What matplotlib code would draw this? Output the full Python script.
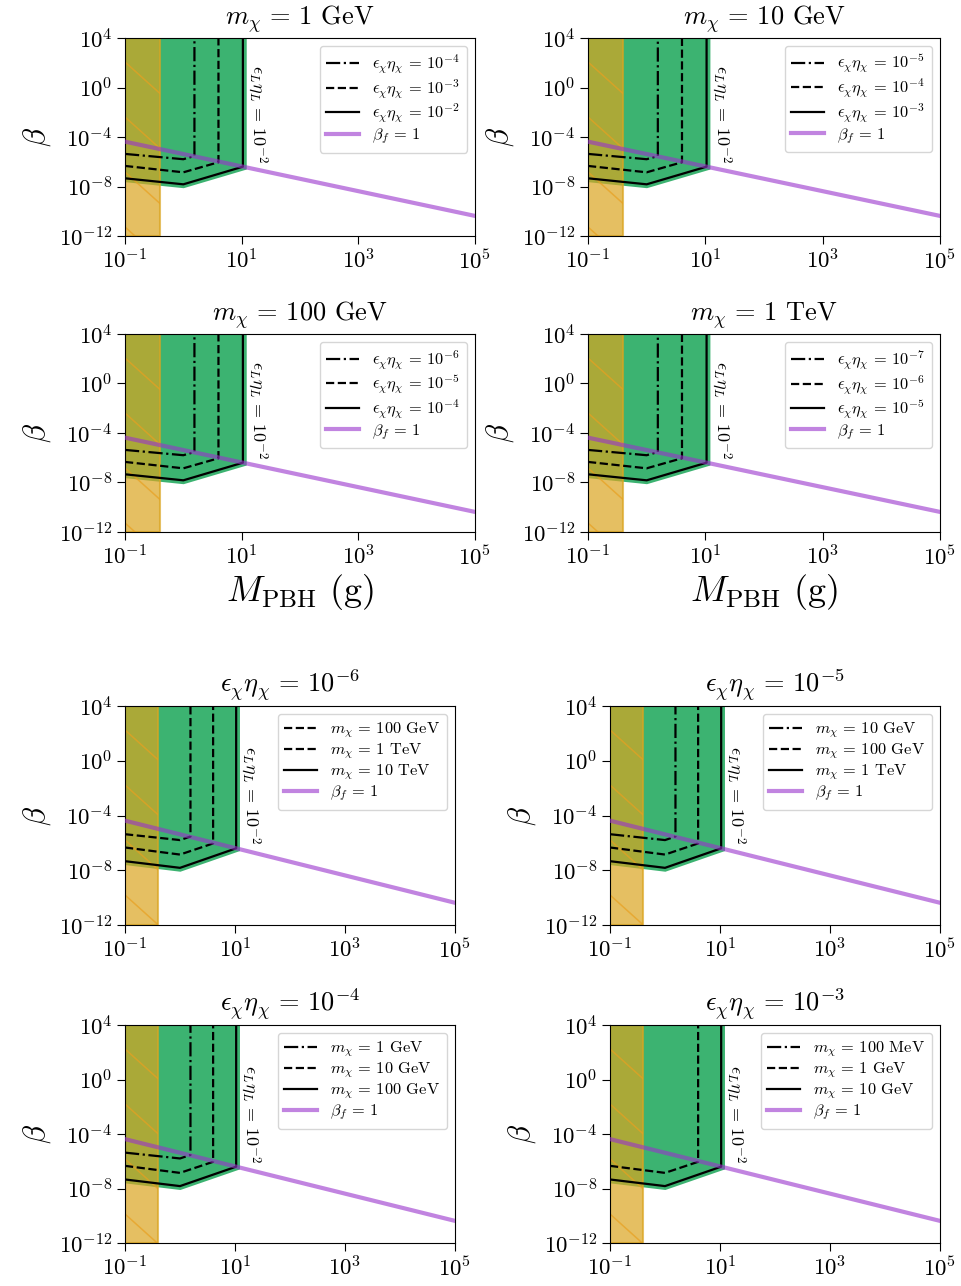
import numpy as np
import matplotlib.pyplot as plt

plt.rcParams.update({
    'font.family': 'serif',
    'font.serif': ['cmr10'],
    'mathtext.fontset': 'cm',
    'axes.formatter.use_mathtext': True,
    'xtick.labelsize': 16.5,
    'ytick.labelsize': 16.5,
    'xtick.major.size': 5.5,
    'ytick.major.size': 5.5,
})

# bound curves (M_PBH in g, beta), three levels of m_chi * eps_chi eta_chi
m_hi = [0.1, 1.0, 1.55, 1.55]
beta_hi = [4.3e-6, 1.6e-6, 2.9e-6, 1e4]
m_mid = [0.1, 1.0, 4.0, 4.0]
beta_mid = [4.6e-7, 1.4e-7, 9.1e-7, 1e4]
m_lo = [0.1, 1.0, 10.5, 10.5]
beta_lo = [4.6e-8, 1.5e-8, 4.0e-7, 1e4]

# beta_f = 1 line
m_bf = [0.1, 1e5]
beta_bf = [4.2e-5, 4.2e-11]

# excluded band (yellow)
band_m = [0.1, 0.4]

xticks = [1e-1, 1e1, 1e3, 1e5]
yticks = [1e-12, 1e-8, 1e-4, 1e0, 1e4]

top_mass = ['1', '10', '100', '1']
top_unit = ['GeV', 'GeV', 'GeV', 'TeV']
top_eps = [[-4, -3, -2], [-5, -4, -3], [-6, -5, -4], [-7, -6, -5]]

bot_eps = [-6, -5, -4, -3]
bot_masses = [['100 GeV', '1 TeV', '10 TeV'],
              ['10 GeV', '100 GeV', '1 TeV'],
              ['1 GeV', '10 GeV', '100 GeV'],
              ['100 MeV', '1 GeV', '10 GeV']]
bot_styles = [['--', '--', '-'], ['-.', '--', '-'], ['-.', '--', '-'], ['-.', '--', '-']]
bot_show = [[1, 1, 1], [1, 1, 1], [1, 1, 1], [0, 1, 1]]

curves = [(m_hi, beta_hi), (m_mid, beta_mid), (m_lo, beta_lo)]

W, H = 961, 1286
fig = plt.figure(figsize=(W / 100, H / 100), dpi=100)


def px_axes(x0, x1, y0, y1):
    return fig.add_axes([x0 / W, 1 - y1 / H, (x1 - x0) / W, (y1 - y0) / H])


def panel(ax, title, labels, styles, show):
    ax.set_xscale('log')
    ax.set_yscale('log')
    ax.fill(m_lo + [m_lo[0]], beta_lo + [beta_lo[-1]], facecolor='mediumseagreen',
            edgecolor='mediumseagreen', lw=5.5, zorder=1)
    span = ax.axvspan(band_m[0], band_m[1], facecolor='goldenrod', alpha=0.7,
                      edgecolor='goldenrod', lw=1.5, zorder=2)
    # sparse hatch
    pos = ax.get_position()
    wpx, hpx = pos.width * W, pos.height * H
    slope = 0.9 * wpx / hpx
    for c in np.arange(1 - 24 / hpx + 3 * 55 / hpx, -0.2, -55 / hpx):
        ln, = ax.plot([0, 0.2], [c, c - slope * 0.2], transform=ax.transAxes,
                      color='#e8a020', alpha=0.7, lw=1.1, zorder=2.5)
        ln.set_clip_path(span)
    for (mx, bx), lab, ls, on in zip(curves, labels, styles, show):
        if on:
            ax.plot(mx, bx, color='k', ls=ls, lw=1.6, label=lab, zorder=3)
        else:
            ax.plot([], [], color='k', ls=ls, lw=1.6, label=lab, zorder=3)
    ax.plot(m_bf, beta_bf, color='darkorchid', alpha=0.6, lw=3, label=r'$\beta_f\,=\,1$', zorder=4)
    ax.text(12, 8e-7, r'$\epsilon_L\eta_L\,=\,10^{-2}$', rotation=-90, ha='left', va='bottom',
            fontsize=13)
    ax.set_xlim(0.1, 1e5)
    ax.set_ylim(1e-12, 1e4)
    ax.set_xticks(xticks)
    ax.set_yticks(yticks)
    ax.minorticks_off()
    ax.set_title(title, fontsize=19, pad=10)
    ax.set_ylabel(r'$\beta$', fontsize=22)
    ax.legend(loc='upper right', fontsize=11.8, labelspacing=0.08, handlelength=2.0)


top_boxes = [(125, 475, 38, 236), (588, 940, 38, 236), (125, 475, 334, 532), (588, 940, 334, 532)]
for i, box in enumerate(top_boxes):
    ax = px_axes(*box)
    labels = [r'$\epsilon_\chi\eta_\chi\,=\,10^{%d}$' % e for e in top_eps[i]]
    panel(ax, r'$m_\chi\,=\,%s$ %s' % (top_mass[i], top_unit[i]), labels, ['-.', '--', '-'], [1, 1, 1])
    if i >= 2:
        ax.set_xlabel(r'$M_{\rm PBH}$ (g)', fontsize=26, labelpad=2)

bot_boxes = [(125, 455, 706, 925), (610, 940, 706, 925), (125, 455, 1025, 1243), (610, 940, 1025, 1243)]
for i, box in enumerate(bot_boxes):
    ax = px_axes(*box)
    labels = []
    for m in bot_masses[i]:
        val, unit = m.split()
        labels.append(r'$m_\chi\,=\,%s$ %s' % (val, unit))
    panel(ax, r'$\epsilon_\chi\eta_\chi\,=\,10^{%d}$' % bot_eps[i], labels, bot_styles[i], bot_show[i])

fig.savefig('out.png', dpi=100)
